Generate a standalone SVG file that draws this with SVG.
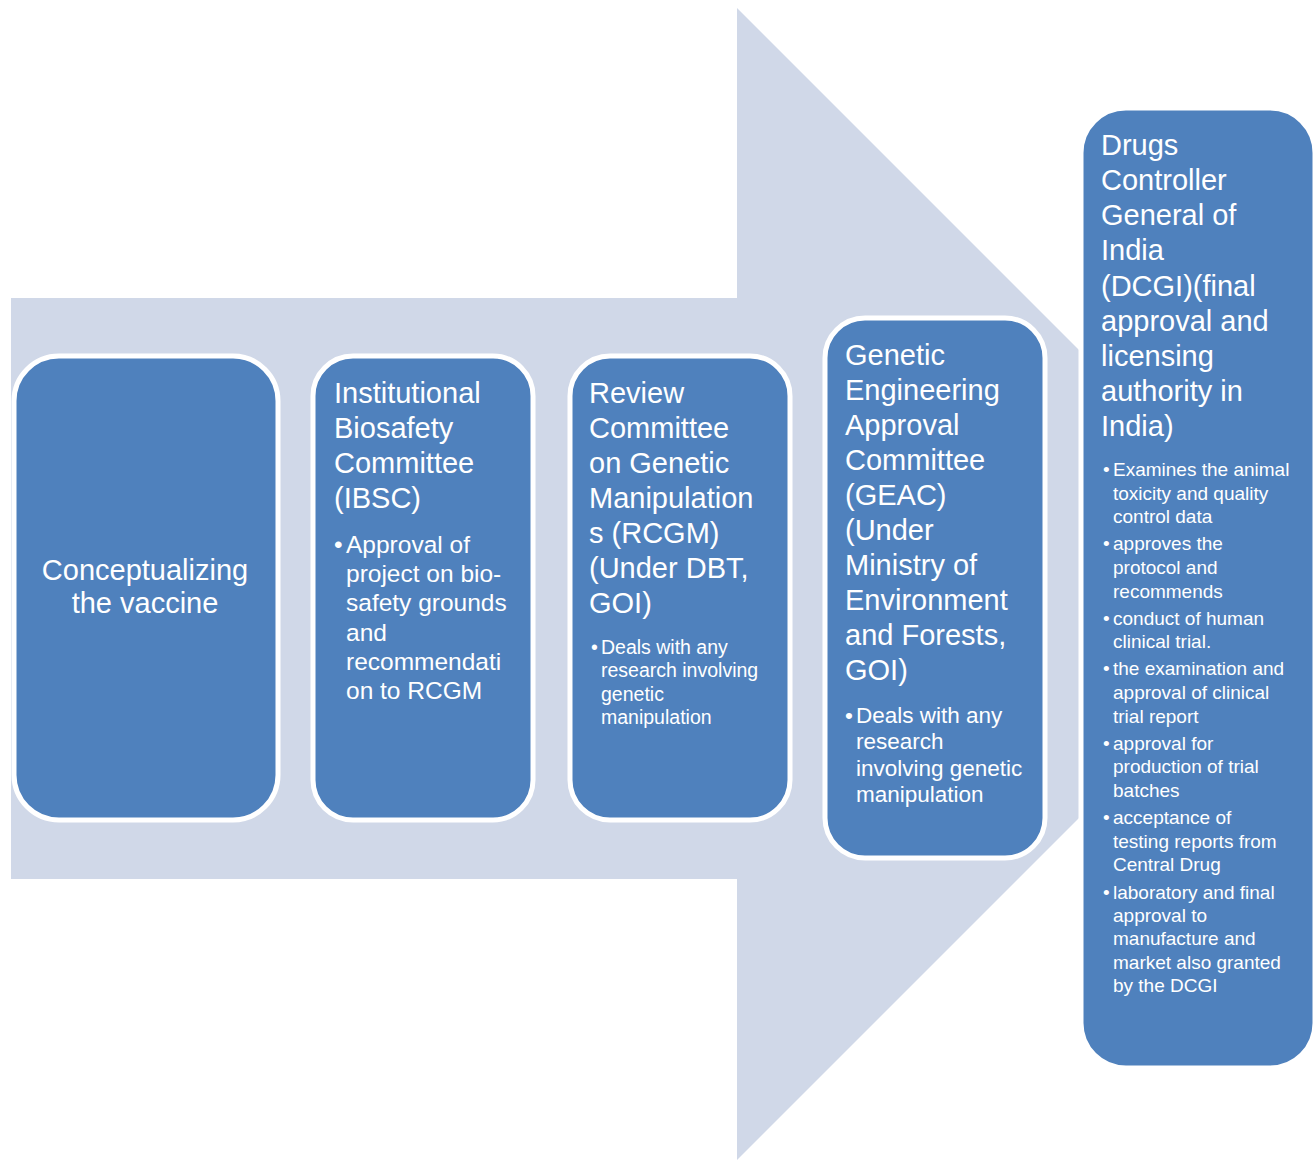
<svg xmlns="http://www.w3.org/2000/svg" width="1315" height="1160" viewBox="0 0 1315 1160">
<style>
.box{fill:#4F81BD;stroke:#FFFFFF;stroke-width:5}
.t{font-family:"Liberation Sans",Arial,sans-serif;fill:#FFFFFF;font-size:29px}
.b2{font-family:"Liberation Sans",Arial,sans-serif;fill:#FFFFFF;font-size:24.5px}
.b3{font-family:"Liberation Sans",Arial,sans-serif;fill:#FFFFFF;font-size:19.5px}
.b4{font-family:"Liberation Sans",Arial,sans-serif;fill:#FFFFFF;font-size:22.5px}
.b5{font-family:"Liberation Sans",Arial,sans-serif;fill:#FFFFFF;font-size:19px}
</style>
<g id="connectors">
<polygon points="11,298 737,298 737,8 1313,584 737,1160 737,879 11,879" fill="#D0D8E8"/>
</g>
<g id="node1">
<rect class="box" x="14" y="356" width="264" height="464" rx="45"/>
<text class="t" text-anchor="middle"><tspan x="145" y="580">Conceptualizing</tspan><tspan x="145" y="613">the vaccine</tspan></text>
</g>
<g id="node2">
<rect class="box" x="313" y="356" width="220" height="464" rx="40"/>
<text class="t"><tspan x="334" y="403">Institutional</tspan><tspan x="334" y="438">Biosafety</tspan><tspan x="334" y="473">Committee</tspan><tspan x="334" y="508">(IBSC)</tspan></text>
<text class="b2"><tspan x="334" y="553">•</tspan></text>
<text class="b2"><tspan x="346" y="553">Approval of</tspan><tspan x="346" y="582">project on bio-</tspan><tspan x="346" y="611">safety grounds</tspan><tspan x="346" y="641">and</tspan><tspan x="346" y="670">recommendati</tspan><tspan x="346" y="699">on to RCGM</tspan></text>
</g>
<g id="node3">
<rect class="box" x="570" y="356" width="220" height="464" rx="40"/>
<text class="t"><tspan x="589" y="403">Review</tspan><tspan x="589" y="438">Committee</tspan><tspan x="589" y="473">on Genetic</tspan><tspan x="589" y="508">Manipulation</tspan><tspan x="589" y="543">s (RCGM)</tspan><tspan x="589" y="578">(Under DBT,</tspan><tspan x="589" y="613">GOI)</tspan></text>
<text class="b3"><tspan x="591" y="654">•</tspan></text>
<text class="b3"><tspan x="601" y="654">Deals with any</tspan><tspan x="601" y="677">research involving</tspan><tspan x="601" y="701">genetic</tspan><tspan x="601" y="724">manipulation</tspan></text>
</g>
<g id="node4">
<rect class="box" x="825" y="318" width="220" height="540" rx="40"/>
<text class="t"><tspan x="845" y="365">Genetic</tspan><tspan x="845" y="400">Engineering</tspan><tspan x="845" y="435">Approval</tspan><tspan x="845" y="470">Committee</tspan><tspan x="845" y="505">(GEAC)</tspan><tspan x="845" y="540">(Under</tspan><tspan x="845" y="575">Ministry of</tspan><tspan x="845" y="610">Environment</tspan><tspan x="845" y="645">and Forests,</tspan><tspan x="845" y="680">GOI)</tspan></text>
<text class="b4"><tspan x="845" y="723">•</tspan></text>
<text class="b4"><tspan x="856" y="723">Deals with any</tspan><tspan x="856" y="749">research</tspan><tspan x="856" y="776">involving genetic</tspan><tspan x="856" y="802">manipulation</tspan></text>
</g>
<g id="node5">
<rect class="box" x="1081" y="108" width="234" height="960" rx="45"/>
<text class="t"><tspan x="1101" y="155">Drugs</tspan><tspan x="1101" y="190">Controller</tspan><tspan x="1101" y="225">General of</tspan><tspan x="1101" y="260">India</tspan><tspan x="1101" y="296">(DCGI)(final</tspan><tspan x="1101" y="331">approval and</tspan><tspan x="1101" y="366">licensing</tspan><tspan x="1101" y="401">authority in</tspan><tspan x="1101" y="436">India)</tspan></text>
<text class="b5"><tspan x="1103" y="476">•</tspan><tspan x="1103" y="550">•</tspan><tspan x="1103" y="625">•</tspan><tspan x="1103" y="675">•</tspan><tspan x="1103" y="750">•</tspan><tspan x="1103" y="824">•</tspan><tspan x="1103" y="899">•</tspan></text>
<text class="b5"><tspan x="1113" y="476">Examines the animal</tspan><tspan x="1113" y="500">toxicity and quality</tspan><tspan x="1113" y="523">control data</tspan><tspan x="1113" y="550">approves the</tspan><tspan x="1113" y="574">protocol and</tspan><tspan x="1113" y="598">recommends</tspan><tspan x="1113" y="625">conduct of human</tspan><tspan x="1113" y="648">clinical trial.</tspan><tspan x="1113" y="675">the examination and</tspan><tspan x="1113" y="699">approval of clinical</tspan><tspan x="1113" y="723">trial report</tspan><tspan x="1113" y="750">approval for</tspan><tspan x="1113" y="773">production of trial</tspan><tspan x="1113" y="797">batches</tspan><tspan x="1113" y="824">acceptance of</tspan><tspan x="1113" y="848">testing reports from</tspan><tspan x="1113" y="871">Central Drug</tspan><tspan x="1113" y="899">laboratory and final</tspan><tspan x="1113" y="922">approval to</tspan><tspan x="1113" y="945">manufacture and</tspan><tspan x="1113" y="969">market also granted</tspan><tspan x="1113" y="992">by the DCGI</tspan></text>
</g>
</svg>
